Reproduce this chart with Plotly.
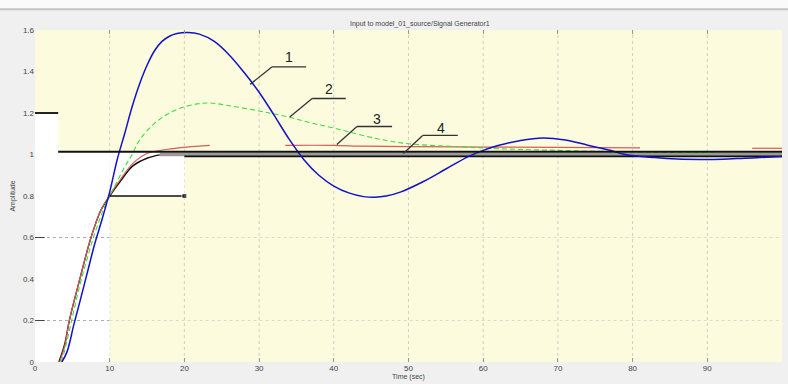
import plotly.graph_objects as go

# ---- step responses (time in seconds, amplitude) ----
t_blue = [3.6, 4.3, 5.2, 6, 7, 8, 9, 10, 11, 12, 13, 14, 15, 16, 17, 18, 19, 20.5, 22, 24, 26, 28, 30,
          32, 34, 36, 38, 40, 42, 44, 45.5, 47, 49, 52, 55, 58, 60, 62, 65, 68, 71, 74, 77, 79, 83,
          86, 89, 92, 95, 98, 100]
y_blue = [0, 0.05, 0.18, 0.29, 0.43, 0.57, 0.69, 0.82, 0.975, 1.1, 1.23, 1.34, 1.43, 1.5, 1.545, 1.57,
          1.583, 1.588, 1.58, 1.545, 1.48, 1.395, 1.3, 1.19, 1.075, 0.975, 0.9, 0.848, 0.815, 0.797,
          0.794, 0.8, 0.82, 0.87, 0.93, 0.99, 1.02, 1.043, 1.068, 1.08, 1.07, 1.045, 1.02, 1.0, 0.985,
          0.978, 0.976, 0.977, 0.982, 0.987, 0.99]

t_green = [3.5, 4, 4.9, 6, 7, 8, 9, 10, 11, 12, 13, 14, 16, 18, 20, 22, 23.5, 26, 30, 34, 37, 40.4,
           45.8, 50, 57, 62, 70, 80, 91]
y_green = [0, 0.06, 0.2, 0.37, 0.5, 0.62, 0.72, 0.8, 0.87, 0.94, 1.0, 1.07, 1.15, 1.2, 1.23, 1.245,
           1.248, 1.235, 1.21, 1.18, 1.152, 1.124, 1.076, 1.052, 1.037, 1.028, 1.02, 1.012, 1.007]

t_red = [3.3, 4, 4.6, 6, 7.5, 8.8, 10, 11.4, 13.1, 15, 17.6, 20.3, 23.4, None,
         33.5, 40, 44, 50, 60, 70, 81, None, 96, 100]
y_red = [0, 0.08, 0.2, 0.4, 0.6, 0.73, 0.805, 0.878, 0.957, 1.005, 1.024, 1.036, 1.044, None,
         1.044, 1.044, 1.04, 1.038, 1.036, 1.034, 1.032, None, 1.03, 1.03]

t_black = [3.2, 4, 4.6, 6, 7.5, 8.8, 10, 11.4, 13.1, 15, 16.7]
y_black = [0, 0.09, 0.2, 0.4, 0.6, 0.73, 0.8, 0.87, 0.945, 0.982, 0.998]

# settled part of response 4
t_settle = [16.7, 100]
y_settle = [1.0, 1.0]

# reference levels
ref_upper = 1.013
ref_lower = 0.991
ref_mark = 0.8

x_ticks = [0, 10, 20, 30, 40, 50, 60, 70, 80, 90, 100]
y_ticks = [0, 0.2, 0.4, 0.6, 0.8, 1.0, 1.2, 1.4, 1.6]
y_tick_text = ["0", "0.2", "0.4", "0.6", "0.8", "1", "1.2", "1.4", "1.6"]

curve_labels = ["1", "2", "3", "4"]
label_anchor = [(28.8, 1.338), (34.1, 1.181), (40.4, 1.048), (49.3, 1.005)]
label_knee = [(31.7, 1.422), (37.1, 1.270), (43.1, 1.135), (51.9, 1.092)]
label_end = [36.3, 41.6, 47.8, 56.6]
label_text_pos = [(34.0, 1.471), (39.4, 1.314), (45.8, 1.171), (54.4, 1.129)]

fig = go.Figure()

fig.add_trace(go.Scatter(x=t_settle, y=y_settle, mode="lines",
                         line=dict(color="#9a9a9a", width=3.5)))
fig.add_trace(go.Scatter(x=[20, 100], y=[ref_lower, ref_lower], mode="lines",
                         line=dict(color="#111111", width=1.8)))
fig.add_trace(go.Scatter(x=t_black, y=y_black, mode="lines", line_shape="spline",
                         line=dict(color="#111111", width=1.4)))
fig.add_trace(go.Scatter(x=t_red, y=y_red, mode="lines", line_shape="spline", connectgaps=False,
                         line=dict(color="#d85a5a", width=1.2)))
fig.add_trace(go.Scatter(x=t_green, y=y_green, mode="lines", line_shape="spline",
                         line=dict(color="#3fdc3f", width=1.1, dash="5px,3px")))
fig.add_trace(go.Scatter(x=t_blue, y=y_blue, mode="lines", line_shape="spline",
                         line=dict(color="#1212c8", width=1.5)))
fig.add_trace(go.Scatter(x=[10, 20], y=[ref_mark, ref_mark], mode="lines+markers",
                         line=dict(color="#111111", width=1.6),
                         marker=dict(size=[0, 5], color="#111111", symbol="square")))

shapes = []
# blank panels
for x0, x1, y0, y1 in [(0, 10, 0, ref_upper), (0, 3.1, ref_upper, 1.2), (10, 20, ref_mark, ref_upper)]:
    shapes.append(dict(type="rect", xref="x", yref="y", x0=x0, x1=x1, y0=y0, y1=y1,
                       fillcolor="white", line=dict(width=0), layer="below"))
# grid
for gx in x_ticks[1:-1]:
    shapes.append(dict(type="line", xref="x", yref="paper", x0=gx, x1=gx, y0=0, y1=1,
                       line=dict(color="#cfcfc6", width=1, dash="dot"), layer="below"))
for gy in [0.2, 0.6]:
    shapes.append(dict(type="line", xref="x", yref="y", x0=0, x1=10, y0=gy, y1=gy,
                       line=dict(color="#b0b0b0", width=1, dash="dot"), layer="below"))
    shapes.append(dict(type="line", xref="x", yref="y", x0=10, x1=100, y0=gy, y1=gy,
                       line=dict(color="#dcdccc", width=1, dash="dot"), layer="below"))
    shapes.append(dict(type="line", xref="x", yref="y", x0=0, x1=1.3, y0=gy, y1=gy,
                       line=dict(color="#444444", width=1), layer="below"))
# reference lines
shapes.append(dict(type="line", xref="x", yref="y", x0=0, x1=3.1, y0=1.2, y1=1.2,
                   line=dict(color="#222222", width=2), layer="below"))
shapes.append(dict(type="line", xref="x", yref="y", x0=3.1, x1=100, y0=ref_upper, y1=ref_upper,
                   line=dict(color="#111111", width=2)))
# curve number leaders
for (ax, ay), (kx, ky), ex in zip(label_anchor, label_knee, label_end):
    shapes.append(dict(type="line", xref="x", yref="y", x0=ax, y0=ay, x1=kx, y1=ky,
                       line=dict(color="#333333", width=1.3)))
    shapes.append(dict(type="line", xref="x", yref="y", x0=kx, y0=ky, x1=ex, y1=ky,
                       line=dict(color="#333333", width=1.3)))
# window strip along the top
shapes.append(dict(type="rect", xref="paper", yref="paper", x0=-0.06, x1=1.02,
                   y0=1 + 21 / 336, y1=1 + 31 / 336, fillcolor="#fafafa", line=dict(width=0)))
shapes.append(dict(type="line", xref="paper", yref="paper", x0=-0.06, x1=1.02,
                   y0=1 + 21 / 336, y1=1 + 21 / 336, line=dict(color="#c4c4c4", width=2)))

annotations = []
for txt, (tx, ty) in zip(curve_labels, label_text_pos):
    annotations.append(dict(x=tx, y=ty, xref="x", yref="y", text=txt, showarrow=False,
                            font=dict(family="Liberation Sans, Arial", size=14, color="#222222")))
annotations.append(dict(x=0.516, y=1 + 12 / 336, xref="paper", yref="paper", showarrow=False,
                        text="Input to model_01_source/Signal Generator1",
                        font=dict(family="Liberation Sans, Arial", size=7, color="#444444")))

fig.update_layout(
    width=788, height=384,
    margin=dict(l=35, r=6, t=30, b=18),
    paper_bgcolor="#f0f0f0",
    plot_bgcolor="#fcfbdd",
    showlegend=False,
    shapes=shapes,
    annotations=annotations,
    font=dict(family="Liberation Sans, Arial", size=8, color="#444444"),
)
fig.update_xaxes(range=[0, 100], tickvals=x_ticks, showgrid=False, zeroline=False,
                 ticks="inside", ticklen=4, tickcolor="#999999", mirror="ticks", showline=False,
                 tickfont=dict(size=8, color="#444444"),
                 title=dict(text="Time (sec)", font=dict(size=7, color="#444444"), standoff=0))
fig.update_yaxes(range=[0, 1.6], tickvals=y_ticks, ticktext=y_tick_text, showgrid=False,
                 zeroline=False, ticks="", showline=False,
                 tickfont=dict(size=8, color="#444444"),
                 title=dict(text="Amplitude", font=dict(size=7, color="#444444"), standoff=6))

fig.write_html("out.html")
